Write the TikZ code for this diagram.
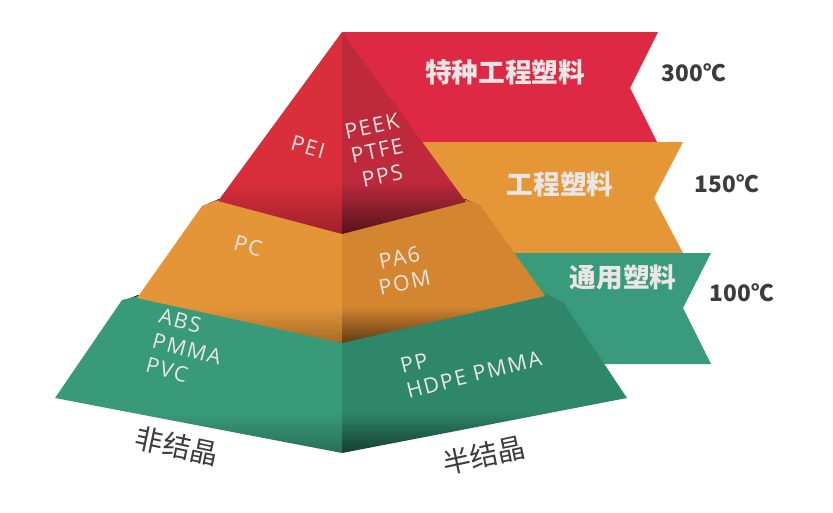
\documentclass[tikz,border=0pt]{standalone}
\usepackage{fontspec}
\setmainfont{Open Sans}
\newfontfamily\cjk{Noto Sans CJK SC}
\newfontfamily\spaced[LetterSpace=8]{Open Sans}
\usetikzlibrary{positioning}

\definecolor{redband}{HTML}{DE2944}
\definecolor{redleft}{HTML}{DA2E3B}
\definecolor{redright}{HTML}{BE2A3B}
\definecolor{orangeband}{HTML}{E59636}
\definecolor{orangeleft}{HTML}{E49538}
\definecolor{orangeright}{HTML}{D4852F}
\definecolor{greenband}{HTML}{3A9A7C}
\definecolor{greenleft}{HTML}{389A79}
\definecolor{greenright}{HTML}{2F876A}
\definecolor{labeltext}{HTML}{EBE6E6}
\definecolor{darktext}{HTML}{3C3C3C}
\colorlet{facecol}{redleft}
\colorlet{facedark}{black}
\pgfdeclareverticalshading[facecol,facedark]{facefade}{100bp}{%
  color(0bp)=(facedark); color(25bp)=(facedark); color(38bp)=(facecol); color(100bp)=(facecol)}

\begin{document}
\begin{tikzpicture}[
    x=0.75pt, y=-0.75pt,
    leftface/.style={/utils/exec={\colorlet{facecol}{#1}\colorlet{facedark}{#1!72!black}}, shading=facefade},
    rightface/.style={/utils/exec={\colorlet{facecol}{#1}\colorlet{facedark}{#1!45!black}}, shading=facefade},
    facelabel/.style={text=labeltext, font=\spaced\fontsize{16}{19}\selectfont, inner sep=0pt},
    bandlabel/.style={text=labeltext, font=\cjk\bfseries\fontsize{20}{22}\selectfont, inner sep=0pt},
    templabel/.style={text=darktext, font=\cjk\bfseries\fontsize{17}{20}\selectfont, inner sep=0pt},
    kindlabel/.style={text=darktext, font=\cjk\fontsize{21}{24}\selectfont, inner sep=0pt}
]
\useasboundingbox (0,0) rectangle (833,512);

\fill[redband] (342,32) -- (658,32) -- (630,88) -- (657,142) -- (400,142) -- cycle;
\fill[orangeband] (380,142) -- (683,142) -- (654,198) -- (683,253) -- (460,253) -- cycle;
\fill[greenband] (470,253) -- (711,253) -- (683,308) -- (711,364) -- (560,364) -- cycle;

\fill[black] (203,206) -- (219,199) -- (224,206) -- cycle;
\fill[black] (480,206) -- (465,199) -- (460,206) -- cycle;
\fill[black] (123,301) -- (138,295) -- (143,301) -- cycle;
\fill[black] (563,303) -- (545,294) -- (540,300) -- cycle;

\shade[leftface=greenleft] (122,300) -- (138,296) -- (342,340) -- (342,453) -- (55,398) -- cycle;
\shade[rightface=greenright] (342,340) -- (545,294) -- (563,302) -- (627,398) -- (342,453) -- cycle;
\shade[leftface=orangeleft] (202,206) -- (218,200) -- (342,231) -- (342,343) -- (137,298) -- cycle;
\shade[rightface=orangeright] (342,231) -- (466,200) -- (480,205) -- (545,296) -- (342,343) -- cycle;
\shade[leftface=redleft] (342,32) -- (218,201) -- (342,234) -- cycle;
\shade[rightface=redright] (342,32) -- (466,202) -- (342,234) -- cycle;

\node[facelabel, rotate=-16] (pei) at (308,147) {PEI};
\node[facelabel, rotate=12, align=center] (peek) at (377,151) {PEEK\\PTFE\\PPS};
\node[facelabel, rotate=-15] (pc) at (248,246) {PC};
\node[facelabel, rotate=12, align=center] (pa) at (402,270) {PA6\\POM};
\node[facelabel, rotate=-15, align=left] (abs) at (187,349) {ABS\\PMMA\\PVC};
\node[facelabel, rotate=14, align=left] (pp) at (471,362) {PP\\HDPE PMMA};

\node[bandlabel] (special) at (505,72) {特种工程塑料};
\node[bandlabel] (eng) at (560,184) {工程塑料};
\node[bandlabel] (general) at (623,277) {通用塑料};

\node[templabel] (t300) at (694,73) {300℃};
\node[templabel] (t150) at (727,184) {150℃};
\node[templabel] (t100) at (742,293) {100℃};

\node[kindlabel, rotate=-12] (amorph) at (177,446) {非结晶};
\node[kindlabel, rotate=12] (semi) at (484,455) {半结晶};
\end{tikzpicture}
\end{document}
